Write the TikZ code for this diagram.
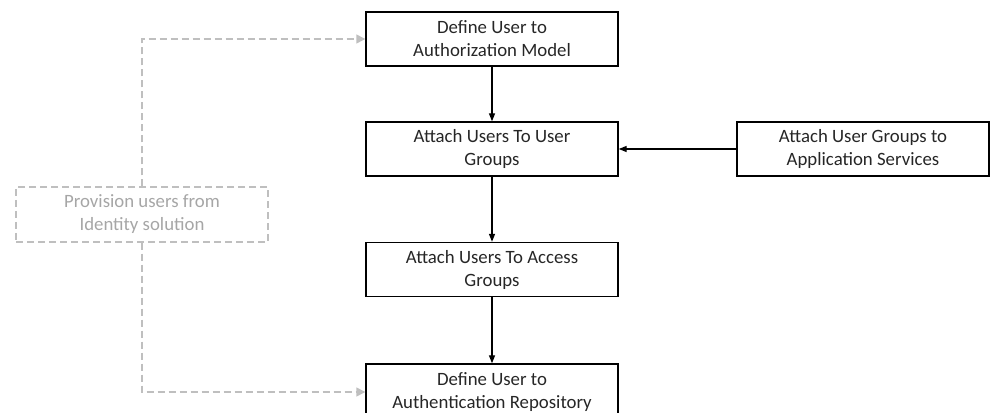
\documentclass[tikz,border=0pt]{standalone}
\usepackage{fontspec}
\setmainfont{Carlito}
\usetikzlibrary{arrows.meta}
\definecolor{dashgray}{HTML}{BFBFBF}
\definecolor{textgray}{HTML}{A6A6A6}
\tikzset{
  stepbox/.style={draw=black, line width=1.4pt, minimum width=252pt, minimum height=54pt,
    inner sep=0pt, align=center, font=\fontsize{18.8}{23}\selectfont, text=black!85},
  ghostbox/.style={draw=dashgray, line width=1.4pt, dash pattern=on 7pt off 4pt,
    minimum width=252pt, minimum height=55pt, inner sep=0pt, align=center,
    font=\fontsize{18.8}{23}\selectfont, text=textgray},
  flow/.style={draw=black, line width=1.4pt, -{Triangle[length=8pt,width=6pt]}},
  ghostflow/.style={draw=dashgray, line width=1.4pt, dash pattern=on 7pt off 4pt,
    -{Triangle[length=9pt,width=9pt,fill=dashgray]}},
}
\begin{document}
\begin{tikzpicture}[x=1pt,y=1pt]
\useasboundingbox (0,0) rectangle (995,412);
\clip (0,0) rectangle (995,412);
\node[stepbox] (top) at (492,373) {Define User to\\Authorization Model};
\node[stepbox] (ug) at (492,263) {Attach Users To User\\Groups};
\node[stepbox] (ag) at (492,142.5) {Attach Users To Access\\Groups};
\node[stepbox, minimum height=56pt] (auth) at (492,20) {Define User to\\Authentication Repository};
\node[stepbox] (app) at (863,263) {Attach User Groups to\\Application Services};
\node[ghostbox] (prov) at (142,197.5) {Provision users from\\Identity solution};
\draw[flow] (top) -- (ug);
\draw[flow] (ug) -- (ag);
\draw[flow] (ag) -- (auth);
\draw[flow] (app) -- (ug);
\draw[ghostflow] (prov.north) |- (top.west);
\draw[ghostflow] (prov.south) |- (auth.west);
\end{tikzpicture}
\end{document}
